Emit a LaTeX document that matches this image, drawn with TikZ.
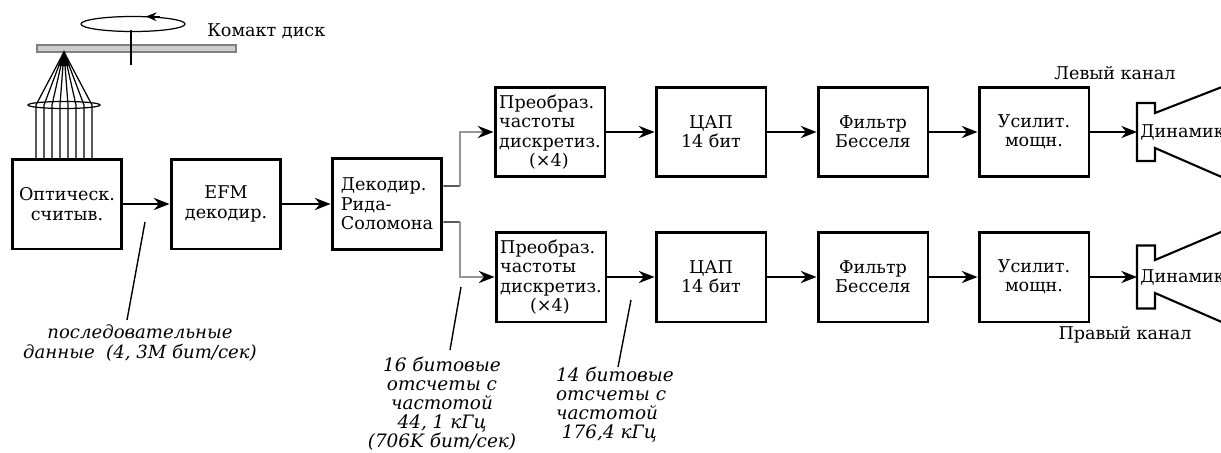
\documentclass[tikz,border=0pt]{standalone}
\usepackage{fontspec}
\setmainfont{DejaVu Serif}
\usetikzlibrary{positioning, arrows.meta, calc}
\definecolor{discgray}{RGB}{205,205,205}
\definecolor{wiregray}{RGB}{150,150,150}
\tikzset{
  block/.style={draw, line width=1.7pt, minimum width=2.2cm, minimum height=1.8cm,
    inner sep=1pt, align=center, font=\fontsize{10}{11}\selectfont},
  spk/.style={minimum width=0.36cm, minimum height=1.2cm, inner sep=0, outer sep=0},
  horn/.style={line width=1.2pt, line join=miter},
  link/.style={-{Stealth[length=9pt,width=7pt,inset=3pt]}, line width=0.8pt},
  graylink/.style={-{Stealth[length=9pt,width=7pt,inset=3pt,black]}, line width=0.8pt, draw=wiregray},
  note/.style={font=\fontsize{10.5}{10.8}\selectfont\itshape, inner sep=0},
  tag/.style={font=\fontsize{10}{11}\selectfont, inner sep=0},
  pointer/.style={line width=0.8pt}
}

\begin{document}
\begin{tikzpicture}[x=0.02cm, y=-0.02cm]
\useasboundingbox (0,0) rectangle (1221,453);
\clip (0,0) rectangle (1221,453);

% disc, spindle and rotation
\draw[line width=0.7pt] (133,24) ellipse [x radius=52, y radius=7.5];
\draw[-{Stealth[length=6pt,width=5pt]}, line width=0.7pt] (160,16.8) -- (146,16.5);
\draw[draw=gray, fill=discgray, line width=0.6pt] (37,45) rectangle (236,52);
\draw[line width=1.3pt] (131,30) -- (131,65);
\node [tag, anchor=west] (disc) at (207,31) {Комакт диск};

% laser beam through the lens
\foreach \x in {36,44,...,92}
  \draw[line width=0.7pt] (\x,160) -- (\x,105) -- (64,52);
\draw[line width=0.7pt] (64,105) ellipse [x radius=36, y radius=3.5];
\fill (64,50) -- (58,66) -- (70,66) -- cycle;

% common part
\node [block] (optic) at (67,204) {Оптическ.\\считыв.};
\node [block] (efm) at (226,204) {EFM\\декодир.};
\node [block, align=left, minimum height=1.84cm] (rsdec) at (387,204) {Декодир.\\Рида-\\Соломона};

% left channel
\node [block, align=left] (conv1) at (550,132) {Преобраз.\\частоты\\дискретиз.\\\hspace{1.7em}(×4)};
\node [block] (dac1) at (711,132) {ЦАП\\14 бит};
\node [block] (filt1) at (873,132) {Фильтр\\Бесселя};
\node [block] (amp1) at (1034,132) {Усилит.\\мощн.};
\node [spk, minimum height=1.16cm] (spk1) at (1146,132) {};
\draw[horn] (1240,80) -- (1155,113) -- (spk1.north east) -- (spk1.north west)
  -- (spk1.south west) -- (spk1.south east) -- (1155,148) -- (1240,185);
\node [tag, anchor=west] (spk1txt) at (1140,132) {Динамик};
\node [tag] (lchan) at (1115,73) {Левый канал};

% right channel
\node [block, align=left] (conv2) at (551,277) {Преобраз.\\частоты\\дискретиз.\\\hspace{1.7em}(×4)};
\node [block] (dac2) at (711,277) {ЦАП\\14 бит};
\node [block] (filt2) at (873,277) {Фильтр\\Бесселя};
\node [block] (amp2) at (1034,277) {Усилит.\\мощн.};
\node [spk, minimum height=1.26cm] (spk2) at (1146,277) {};
\draw[horn] (1240,224) -- (1155,260) -- (spk2.north east) -- (spk2.north west)
  -- (spk2.south west) -- (spk2.south east) -- (1155,293) -- (1240,330);
\node [tag, anchor=west] (spk2txt) at (1140,277) {Динамик};
\node [tag] (rchan) at (1125,335) {Правый канал};

% connections
\coordinate (fork1) at (460,186);
\coordinate (fork2) at (460,222);
\draw[link] (optic) -- (efm);
\draw[link] (efm) -- (rsdec);
\draw[line width=0.8pt] ([yshift=0.36cm]rsdec.east) -- (fork1);
\draw[graylink] (fork1) |- (conv1);
\draw[line width=0.8pt] ([yshift=-0.36cm]rsdec.east) -- (fork2);
\draw[graylink] (fork2) |- (conv2);
\draw[link] (conv1) -- (dac1);
\draw[link] (dac1) -- (filt1);
\draw[link] (filt1) -- (amp1);
\draw[link] (amp1.east) -- (spk1.west);
\draw[link] (conv2) -- (dac2);
\draw[link] (dac2) -- (filt2);
\draw[link] (filt2) -- (amp2);
\draw[link] (amp2.east) -- (spk2.west);

% data rate notes
\node [note, align=center, font=\fontsize{10.3}{11.8}\selectfont\itshape] (serial) at (140,343) {последовательные\\данные\ \ (4, 3M бит/сек)};
\node [note, align=center] (rate16) at (442,404) {16 битовые\\отсчеты с\\частотой\\44, 1 кГц\\(706K бит/сек)};
\node [note, align=left] (rate14) at (615,405) {14 битовые\\отсчеты с\\частотой\\\ 176,4 кГц};
\coordinate (tap1) at (145,222);
\coordinate (tail1) at (127,320);
\coordinate (tap2) at (461,287);
\coordinate (tail2) at (450,350);
\coordinate (tap3) at (631,300);
\coordinate (tail3) at (618,367);
\draw[pointer] (tap1) -- (tail1);
\draw[pointer] (tap2) -- (tail2);
\draw[pointer] (tap3) -- (tail3);
\end{tikzpicture}
\end{document}
